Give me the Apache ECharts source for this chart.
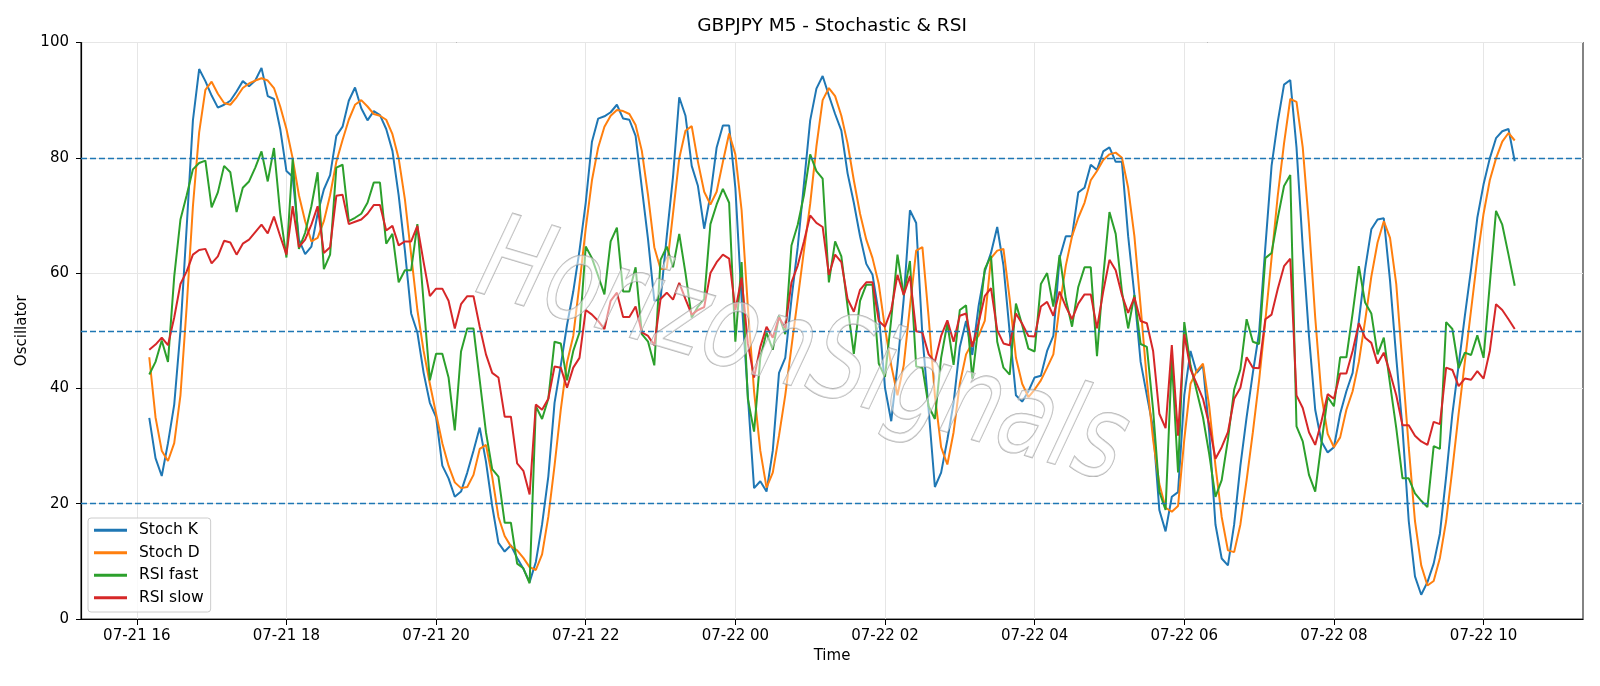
<!DOCTYPE html>
<html>
<head>
<meta charset="utf-8">
<title>GBPJPY M5 - Stochastic & RSI</title>
<script src="https://cdn.jsdelivr.net/npm/echarts@6/dist/echarts.min.js"></script>
<style>
  html, body { margin: 0; padding: 0; background: #fff; }
  #oscChart { width: 1600px; height: 686px; }
</style>
</head>
<body>
<div id="oscChart"></div>
<script>
// 5-minute bars, 07-21 16:10 .. 07-22 10:25
var firstBar = '2025-07-21T16:10:00Z';
var barMinutes = 5;

var stochK = [
    34.9, 27.9, 24.8, 30.5, 37.2, 50, 68, 86.5, 95.4, 93.3, 90.8, 88.7, 89.2, 89.9, 91.5, 93.3, 92.4, 93.4, 95.6, 90.7, 90.2, 85, 77.7, 76.7, 65.8, 63.3, 64.6, 70.3, 74.5,
    77, 83.8, 85.4, 89.9, 92.2, 88.6, 86.5, 88.1, 87.4, 85, 81.2, 73.5, 63.9, 53, 49.7, 42.7, 37.5, 35, 26.6, 24.4, 21.2, 22.1, 25.4, 29.2, 33.2, 27.3, 19.6, 13.2, 11.7, 12.8, 10.6, 8.7, 6.4, 9.9, 16.4, 24.7, 37.5, 44, 51,
    56.8, 63.9, 72.2, 82.8, 86.8, 87.2, 87.9, 89.2, 86.8, 86.6, 83.8, 74.8, 65.8, 55.2, 55.5, 66.4, 76.7, 90.5, 87.3, 78.6, 75.1, 67.7, 73.5, 81.8, 85.6, 85.6, 74.8, 55.5, 38.8, 22.7, 23.9, 22.1, 29.2, 42.7, 45.3, 55.5, 64.5, 75.5, 86.5,
    92, 94.2, 90.8, 87.6, 84.7, 77.3, 72.2, 66.4, 61.6, 59.7, 53, 40.1, 34.3, 44, 55.5, 70.9, 68.7, 49.1, 36.3, 22.9, 25.4, 31.1, 37.5, 47.2, 51.7, 45.8, 54.2, 60.3, 63.5, 68, 61.3, 49.7, 38.8, 37.7, 39.5, 41.9, 42.2, 46.5,
    49.1, 62.6, 66.4, 66.4, 74, 74.8, 78.8, 77.9, 81.1, 81.8, 79.3, 79.3, 66.4, 56.2, 44.6, 38.8, 33.1, 18.9, 15.2, 21.2, 22, 38.8, 46.5, 42.7, 44, 32.4, 16.4, 10.5, 9.3, 16.4, 26.6, 35, 42.7, 49.7, 64.5, 78.6, 86.3, 92.7, 93.5,
    81.8, 64.5, 49.1, 36.3, 30.8, 28.9, 29.8, 35.6, 39.5, 42.7, 51.7, 60.7, 67.6, 69.3, 69.5, 58.7, 45.3, 33.1, 17, 7.4, 4.2, 6.4, 9.6, 14.8, 24.7, 35.6, 44, 52.6, 60.7, 69.6, 75.4, 79.9, 83.4, 84.6, 85, 79.4
];
var stochD = [
    45.4, 35, 29.2, 27.4, 30.5, 38.8, 54.2, 71.6, 84.4, 91.8, 93.2, 91.1, 89.5, 89.2, 90.5, 92.1, 92.9, 93.4, 93.8, 93.4, 92.1, 88.9, 85, 79.9, 73.5, 69, 65.5, 66.1, 69,
    73.5, 79.3, 83.1, 86.6, 89.2, 90, 88.9, 87.6, 87.3, 86.6, 84.1, 79.9, 72.8, 63.2, 53.6, 46.5, 40.8, 35.6, 30.5, 26.6, 23.7, 22.7, 22.9, 25, 29.5, 30.2, 24.7, 17.7, 14.4, 12.6, 11.9, 10.6, 9, 8.5, 11.2, 17.7, 26.6, 36.3, 44.5,
    49.1, 58.1, 67.7, 76.1, 81.8, 85.4, 87.3, 88.3, 88.1, 87.6, 85.7, 81.2, 73.5, 64.5, 60.7, 60.8, 70.3, 79.9, 84.7, 85.5, 79.3, 74.1, 71.9, 74.1, 79.3, 84.2, 80.6, 70.9, 54.2, 39.5, 29.2, 22.8, 25.4, 31.8, 38.8, 47.2, 55.5, 63.9, 72,
    82, 90, 92.1, 90.7, 87.3, 82.5, 76.1, 70.3, 65.8, 62.6, 58.1, 50.4, 44, 38.8, 44, 54.2, 63.9, 64.5, 52.3, 38.8, 29.8, 26.8, 32.4, 40.8, 45.9, 47.9, 49.1, 51.7, 62.6, 63.9, 64.2, 55.5, 45.3, 40.8, 38.5, 39.8, 41.4, 43.6,
    45.9, 54.2, 61.3, 66.4, 69.6, 72.2, 76.1, 77.7, 79.6, 80.6, 80.9, 80, 74.8, 66.4, 54.2, 41.4, 31.1, 23.4, 19.3, 18.6, 19.6, 31.1, 40.8, 43, 44.3, 36.9, 26.6, 17.7, 11.9, 11.6, 16.4, 24.1, 32.4, 41.4, 51.7, 62.6, 73.5, 82.5, 90.2,
    89.7, 81.8, 68.4, 52.3, 38.8, 32.1, 29.8, 31.5, 36.3, 39.5, 44.6, 51.7, 59.4, 65.3, 69, 66.1, 58.1, 44, 29.8, 17, 9.3, 5.8, 6.6, 10.6, 17, 26, 35.6, 44.6, 53.6, 62.6, 70.3, 76.1, 79.9, 82.8, 84.3, 83
];
var rsiFast = [
    42.4, 44.6, 48.3, 44.6, 59.4, 69.3, 73.5, 78, 79.1, 79.5, 71.4, 74, 78.6, 77.5, 70.6, 74.8, 75.9, 78.3, 81.1, 75.9, 81.7, 70.3, 62.7, 79.8, 64.2, 67, 71.6, 77.5, 60.7,
    63.2, 78.3, 78.8, 69, 69.6, 70.3, 72.2, 75.7, 75.7, 65.1, 66.8, 58.4, 60.5, 60.5, 68.5, 54.9, 41.4, 46, 46, 41.9, 32.7, 46.4, 50.4, 50.4, 41.4, 32.4, 26, 24.7, 16.7, 16.7, 9.6, 8.8, 6.2, 36.9, 34.7, 38.2, 48.1, 47.8, 41.4,
    46.5, 49.7, 64.6, 62.6, 59.5, 56.3, 65.5, 67.9, 56.8, 56.8, 61, 49.4, 48.1, 44, 62.3, 64.6, 61, 66.8, 60, 52.3, 54.2, 55.5, 68.5, 71.9, 74.6, 72.2, 48.1, 61.9, 38.2, 32.5, 45.3, 49.7, 46.7, 52.6, 49.4, 64.8, 68.4, 73.5, 80.6,
    77.7, 76.4, 58.4, 65.5, 62.9, 54.2, 46, 55.2, 58, 58, 44.3, 42, 52, 63.2, 56.2, 62.1, 43.8, 43.6, 36.9, 34.7, 45.3, 51.3, 44.1, 53.6, 54.4, 41.7, 51, 60.7, 63, 48.1, 43.6, 42.4, 54.7, 51, 46.9, 46.4, 58.1, 60,
    54.2, 63.1, 55.5, 50.7, 57.6, 61, 61, 45.6, 59.4, 70.6, 66.8, 56.8, 50.4, 56.2, 47.7, 47.2, 36.3, 22.1, 18.9, 45.1, 25.4, 51.5, 44, 39.5, 35, 28.6, 21.2, 24.1, 31.1, 39.8, 43.3, 52, 48.1, 47.7, 62.6, 63.5, 69.6, 75.1, 77,
    33.4, 30.8, 25, 22.1, 30.5, 38.5, 36.9, 45.4, 45.4, 53, 61.2, 54.9, 53, 45.9, 48.8, 40.8, 33.1, 24.4, 24.4, 21.8, 20.5, 19.4, 30, 29.5, 51.5, 50.3, 43.5, 46.2, 45.8, 49.2, 45.3, 58.1, 70.8, 68.4, 63.2, 57.8
];
var rsiSlow = [
    46.7, 47.6, 48.8, 47.5, 52.3, 58.1, 60.3, 63.2, 64, 64.2, 61.7, 62.9, 65.6, 65.3, 63.2, 65.1, 65.8, 67.1, 68.4, 66.9, 69.8, 66.4, 63.2, 71.6, 64.5, 65.8, 68.4, 71.6, 63.5,
    64.5, 73.4, 73.6, 68.5, 68.9, 69.3, 70.3, 71.8, 71.8, 67.4, 68.2, 64.8, 65.5, 65.5, 68.2, 61.9, 56, 57.3, 57.3, 55.2, 50.4, 54.6, 56, 56, 50.7, 45.9, 42.7, 41.9, 35.1, 35.1, 27, 25.7, 21.6, 37.2, 36.3, 38.2, 43.8, 43.6, 40.1,
    43.6, 45.3, 53.6, 52.8, 51.7, 50.3, 55.2, 56.6, 52.4, 52.4, 54.2, 49.7, 49.1, 47.5, 55.5, 56.6, 55.4, 58.3, 55.5, 52.8, 53.6, 54.1, 60, 61.9, 63.2, 62.5, 53.6, 59.2, 47.8, 41.9, 47.2, 50.7, 48.8, 52.3, 50.5, 58.4, 61.3, 65.5, 70,
    68.7, 68, 59.7, 63.2, 61.9, 55.5, 53.3, 57.1, 58.4, 58.4, 51.7, 50.7, 53.6, 59.7, 56.2, 59.5, 49.9, 49.7, 45.9, 44.6, 49.1, 51.8, 48.1, 52.6, 53, 47.2, 51.3, 56, 57.4, 50.1, 47.8, 47.5, 53, 51.2, 49.1, 49, 54.2, 55,
    52.6, 56.8, 54.2, 52, 54.7, 56.3, 56.3, 50.4, 56.8, 62.3, 60.5, 56.2, 53.1, 55.8, 51.7, 51.3, 46.5, 35.6, 33.1, 47.5, 31.8, 49.4, 43.3, 40.8, 38.2, 33.7, 27.8, 29.8, 32.4, 38.2, 40.1, 45.4, 43.6, 43.5, 52, 52.8, 57.3, 61.2, 62.5,
    38.8, 36.6, 32.4, 30.2, 34.3, 39, 38.2, 42.6, 42.6, 46.5, 51.3, 48.8, 47.9, 44.3, 46.2, 42.7, 38.8, 33.6, 33.6, 31.8, 30.8, 30.2, 34.2, 33.8, 43.6, 43.2, 40.4, 41.7, 41.5, 43, 41.7, 46.5, 54.6, 53.6, 52, 50.3
];

var timeTicks = [
    '2025-07-21T16:00:00Z', '2025-07-21T18:00:00Z', '2025-07-21T20:00:00Z', '2025-07-21T22:00:00Z',
    '2025-07-22T00:00:00Z', '2025-07-22T02:00:00Z', '2025-07-22T04:00:00Z', '2025-07-22T06:00:00Z',
    '2025-07-22T08:00:00Z', '2025-07-22T10:00:00Z'
];
var levels = [20, 50, 80];

var font = 'DejaVu Sans';
var t0 = Date.parse(firstBar);
var step = barMinutes * 60 * 1000;
var tickValues = timeTicks.map(function (s) { return Date.parse(s); });
var pad = 54.75 * 60 * 1000; // matplotlib 5% margin

function pair(arr) {
    return arr.map(function (v, i) { return [t0 + i * step, v]; });
}
function two(n) { return (n < 10 ? '0' : '') + n; }
function fmtTime(v) {
    var d = new Date(v);
    return two(d.getUTCMonth() + 1) + '-' + two(d.getUTCDate()) + ' ' + two(d.getUTCHours());
}

var myChart = echarts.init(document.getElementById('oscChart'), null, { renderer: 'canvas' });

var option = {
    animation: false,
    backgroundColor: '#fff',
    textStyle: { fontFamily: font },
    grid: {
        left: 81, right: 17, top: 42.5, bottom: 67,
        show: true, borderColor: '#333', borderWidth: 1.2
    },
    legend: {
        orient: 'vertical',
        left: 88, top: 518,
        padding: [4, 7, 6, 6],
        icon: 'rect',
        itemWidth: 33, itemHeight: 3, itemGap: 6,
        backgroundColor: 'rgba(255,255,255,0.8)',
        borderColor: '#cccccc', borderWidth: 1, borderRadius: 3,
        textStyle: { fontFamily: font, fontSize: 15.5, lineHeight: 16.5, color: '#000', padding: [0, 0, 0, 7] },
        data: ['Stoch K', 'Stoch D', 'RSI fast', 'RSI slow']
    },
    xAxis: {
        type: 'value',
        min: t0 - pad,
        max: t0 + (stochK.length - 1) * step + pad,
        name: 'Time', nameLocation: 'middle', nameGap: 28,
        nameTextStyle: { fontFamily: font, fontSize: 15, color: '#000' },
        axisLine: { onZero: false, lineStyle: { color: '#000', width: 1.2 } },
        axisTick: { customValues: tickValues, length: 6, lineStyle: { color: '#000' } },
        axisLabel: {
            customValues: tickValues, margin: 10,
            fontFamily: font, fontSize: 15, color: '#000',
            formatter: fmtTime
        },
        splitLine: { show: true, lineStyle: { color: '#e6e6e6', width: 1 } }
    },
    yAxis: {
        type: 'value', min: 0, max: 100, interval: 20,
        name: 'Oscillator', nameLocation: 'middle', nameGap: 45,
        nameTextStyle: { fontFamily: font, fontSize: 15, color: '#000' },
        axisLine: { show: true, lineStyle: { color: '#000', width: 1.2 } },
        axisTick: { show: true, length: 5, lineStyle: { color: '#000' } },
        axisLabel: { margin: 12, fontFamily: font, fontSize: 15, color: '#000' },
        splitLine: { show: true, lineStyle: { color: '#e6e6e6', width: 1 } }
    },
    series: [
        {
            name: 'Stoch K', type: 'line', data: pair(stochK),
            symbol: 'none', lineStyle: { color: '#1f77b4', width: 2 }, itemStyle: { color: '#1f77b4' },
            markLine: {
                silent: true, symbol: 'none', label: { show: false },
                lineStyle: { color: '#1f77b4', type: [6, 3], width: 1.4 },
                data: levels.map(function (v) { return { yAxis: v }; })
            }
        },
        {
            name: 'Stoch D', type: 'line', data: pair(stochD),
            symbol: 'none', lineStyle: { color: '#ff7f0e', width: 2 }, itemStyle: { color: '#ff7f0e' }
        },
        {
            name: 'RSI fast', type: 'line', data: pair(rsiFast),
            symbol: 'none', lineStyle: { color: '#2ca02c', width: 2 }, itemStyle: { color: '#2ca02c' }
        },
        {
            name: 'RSI slow', type: 'line', data: pair(rsiSlow),
            symbol: 'none', lineStyle: { color: '#d62728', width: 2 }, itemStyle: { color: '#d62728' }
        }
    ],
    graphic: [
        {
            type: 'text', x: 832, y: 26, z: 10,
            style: {
                text: 'GBPJPY M5 - Stochastic & RSI',
                fontFamily: font, fontSize: 18.5, fill: '#000',
                align: 'center', verticalAlign: 'middle',
                textAlign: 'center', textVerticalAlign: 'middle'
            }
        },
        {
            // watermark
            type: 'text', x: 802, y: 357, rotation: -0.29, scaleY: 1.3, z: 100, silent: true,
            style: {
                text: 'HorizonSignals',
                fontFamily: font, fontSize: 90, fontStyle: 'italic',
                fill: 'rgba(255,255,255,0.5)',
                stroke: 'rgba(150,150,150,0.7)', lineWidth: 1.2,
                shadowColor: 'rgba(0,0,0,0.4)', shadowBlur: 3, shadowOffsetX: 4, shadowOffsetY: 5,
                align: 'center', verticalAlign: 'middle',
                textAlign: 'center', textVerticalAlign: 'middle'
            }
        }
    ]
};
myChart.setOption(option);
</script>
</body>
</html>
